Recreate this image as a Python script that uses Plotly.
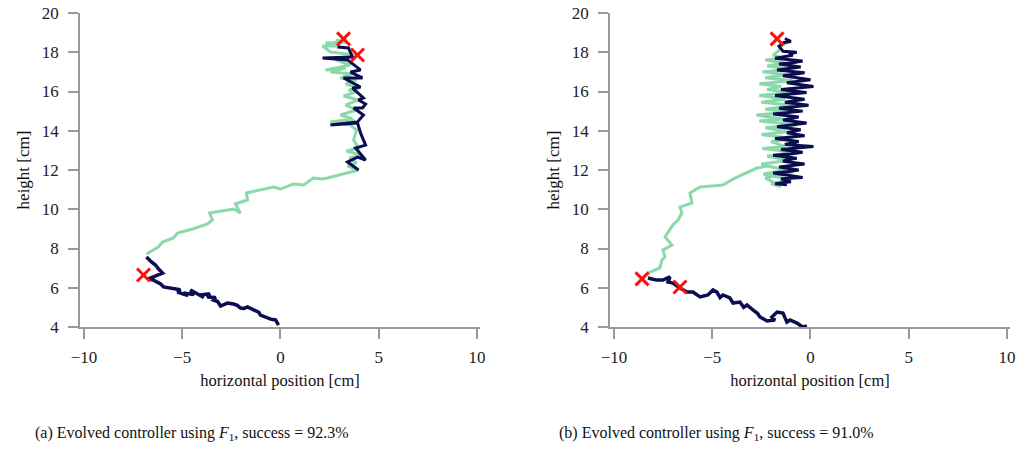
import plotly.graph_objects as go

# ---------------- Panel (a) ----------------
a_dark_low_x = [-0.1, -0.2, -0.25, -0.5, -0.66, -1.02, -1.1, -1.37, -1.68, -1.85, -2.04, -2.2, -2.39, -2.7, -2.9, -3.05, -3.2, -3.41, -3.3, -3.72, -3.6, -4.07, -3.9, -4.3, -4.58, -4.4, -4.94, -4.7, -5.24, -5.1, -5.6, -5.95, -6.1, -6.26, -6.46, -6.72, -6.3, -6.0, -6.2, -6.36, -6.55, -6.77, -6.82]
a_dark_low_y = [4.1, 4.25, 4.36, 4.4, 4.46, 4.61, 4.75, 4.87, 5.02, 4.95, 4.97, 5.1, 5.17, 5.22, 5.12, 5.07, 5.3, 5.38, 5.5, 5.53, 5.7, 5.63, 5.5, 5.75, 5.89, 5.65, 5.73, 5.6, 5.78, 5.9, 5.99, 6.04, 6.2, 6.29, 6.39, 6.45, 6.6, 6.75, 6.95, 7.16, 7.3, 7.52, 7.57]

a_green_x = [-6.82, -6.21, -6.0, -5.45, -5.24, -4.48, -3.72, -3.46, -3.61, -2.39, -2.04, -2.29, -1.68, -1.73, -0.36, 0.0, 0.66, 1.17, 1.68, 2.14, 2.39, 3.05, 3.72, 3.97,
             3.41, 3.87, 3.51, 4.12, 3.36, 3.97, 3.72, 3.87, 3.56, 2.54, 3.31, 3.82, 3.56, 3.05, 3.87, 3.31, 3.97, 3.21, 3.82, 3.46, 4.07, 3.31, 3.87, 3.05, 3.66, 2.54, 3.31, 2.29, 3.56, 2.80, 3.82, 2.54, 2.14, 3.05, 2.29, 3.31, 2.80]
a_green_y = [7.72, 8.08, 8.33, 8.54, 8.79, 8.99, 9.25, 9.45, 9.81, 10.01, 9.81, 10.27, 10.47, 10.83, 11.13, 11.03, 11.29, 11.24, 11.59, 11.54, 11.59, 11.75, 11.9, 12.0,
             12.20, 12.36, 12.61, 12.76, 12.97, 13.12, 13.53, 14.04, 14.29, 14.45, 14.55, 14.40, 14.65, 14.80, 15.06, 15.31, 15.57, 15.77, 15.97, 16.08, 16.18, 16.38, 16.59, 16.69, 16.89, 16.99, 17.20, 17.10, 17.35, 17.61, 17.86, 18.01, 18.32, 18.32, 18.47, 18.52, 18.62]

a_dark_top_x = [2.90, 3.46, 3.66, 2.14, 3.41, 4.07, 3.56, 4.17, 3.21, 4.07, 3.66, 4.22, 3.97, 4.33, 4.17, 3.72, 4.22, 3.92, 2.54, 3.92, 4.07, 4.33, 3.82, 4.33, 3.92, 3.41, 3.97]
a_dark_top_y = [18.27, 18.22, 17.76, 17.71, 17.61, 17.10, 16.99, 16.69, 16.69, 16.23, 16.18, 15.67, 15.57, 15.36, 15.16, 15.16, 14.80, 14.45, 14.29, 14.40, 13.89, 13.27, 13.12, 12.51, 12.66, 12.41, 12.0]

a_cross_x = [-6.97, 3.21, 3.92]
a_cross_y = [6.65, 18.68, 17.86]

# ---------------- Panel (b) ----------------
b_dark_low_x = [-0.18, -0.4, -0.69, -1.04, -1.2, -1.40, -1.70, -1.96, -1.81, -2.21, -2.57, -2.7, -2.93, -3.23, -3.4, -3.59, -3.94, -4.10, -4.45, -4.6, -4.76, -4.96, -5.22, -5.62, -5.98, -6.28, -6.64, -7.00, -7.25, -7.15, -7.51, -7.81, -8.07, -8.27]
b_dark_low_y = [4.05, 4.0, 4.20, 4.36, 4.25, 4.71, 4.76, 4.51, 4.36, 4.31, 4.51, 4.7, 4.87, 5.12, 5.0, 5.27, 5.22, 5.48, 5.63, 5.5, 5.78, 5.89, 5.63, 5.53, 5.78, 5.78, 5.99, 6.24, 6.29, 6.55, 6.39, 6.39, 6.45, 6.50]

b_green_x = [-8.27, -7.66, -7.56, -7.40, -7.51, -7.05, -7.40, -7.00, -6.74, -6.54, -6.64, -6.03, -6.13, -5.62, -4.45, -3.84, -2.72, -2.21,
             -1.2, -2.4, -1.0, -2.0, -1.5, -2.3, -0.9, -2.5, -1.1, -2.2, -0.8, -2.45, -1.3, -2.0, -0.9, -2.5, -1.2, -2.3, -0.7, -2.6, -1.4, -2.75, -1.0, -2.3, -0.9, -2.5, -1.3, -2.6, -1.0, -2.2, -1.5, -2.6, -0.9, -2.3, -1.2, -2.45, -1.0, -2.2, -1.3, -2.3, -1.4, -1.9, -1.6, -1.5, -1.2]
b_green_y = [6.75, 7.01, 7.41, 7.57, 7.92, 8.18, 8.59, 9.20, 9.45, 9.81, 10.11, 10.32, 10.83, 11.13, 11.24, 11.59, 12.10, 12.20,
             12.0, 11.8, 11.5, 11.3, 11.15, 11.6, 11.9, 12.3, 12.5, 12.7, 12.9, 13.1, 13.2, 13.45, 13.6, 13.8, 13.95, 14.15, 14.3, 14.5, 14.6, 14.8, 14.95, 15.1, 15.3, 15.45, 15.6, 15.8, 15.95, 16.1, 16.25, 16.4, 16.55, 16.7, 16.85, 17.0, 17.15, 17.3, 17.45, 17.6, 17.7, 17.85, 18.1, 18.3, 18.5]

b_dark_top_x = [-1.3, -1.0, -1.35, -1.6, -1.4, -0.7, -1.1, -0.9, -1.8, -1.2, -0.4, -0.9, -1.6, -0.5, -1.1, -1.7, -0.3, -0.8, -1.4, 0.0, -0.6, -1.2, 0.15, -0.5, -1.5, -0.9, -0.2, -1.8, -1.0, -0.3, -1.3, -0.7, -0.1, -1.6, -0.9, -0.4, -1.9, -1.1, -0.6, -1.4, -0.8, -0.2, -1.7, -1.0, -0.5, -1.2, -0.7, -0.3, -1.8, -1.1, -0.6, -1.3, 0.15, -0.7, -1.5, -0.4, -1.0, -1.9, -0.7, -1.2, -1.4, -0.3, -0.9, -1.6, -0.6, -1.1, -1.9, -0.8, -0.4, -1.5, -1.0, -1.8, -1.2]
b_dark_top_y = [18.7, 18.55, 18.5, 18.3, 18.05, 18.0, 17.92, 17.85, 17.7, 17.62, 17.55, 17.47, 17.4, 17.25, 17.17, 17.1, 16.95, 16.88, 16.8, 16.6, 16.52, 16.45, 16.25, 16.18, 16.1, 16.02, 15.95, 15.8, 15.7, 15.6, 15.45, 15.38, 15.3, 15.15, 15.07, 15.0, 14.85, 14.78, 14.7, 14.55, 14.47, 14.4, 14.2, 14.12, 14.05, 13.9, 13.82, 13.75, 13.6, 13.52, 13.45, 13.3, 13.2, 13.12, 13.05, 12.9, 12.82, 12.75, 12.6, 12.52, 12.45, 12.3, 12.22, 12.15, 12.0, 11.92, 11.85, 11.7, 11.62, 11.55, 11.4, 11.3, 11.25]

b_cross_x = [-8.57, -6.64, -1.70]
b_cross_y = [6.45, 6.04, 18.68]

x_ticks = [-10, -5, 0, 5, 10]
y_ticks = [4, 6, 8, 10, 12, 14, 16, 18, 20]
captions = ["(a) Evolved controller using <i>F</i><sub>1</sub>, success = 92.3%",
            "(b) Evolved controller using <i>F</i><sub>1</sub>, success = 91.0%"]

DARK = "#0b0d4f"
GREEN = "#8ad9aa"
RED = "#ff1010"
AXC = "#9a9a9a"
FONT = "Liberation Serif"

fig = go.Figure()

def line(x, y, color, xa, ya, w=3):
    fig.add_trace(go.Scatter(x=x, y=y, mode="lines", line=dict(color=color, width=w),
                             xaxis=xa, yaxis=ya, showlegend=False, hoverinfo="skip"))

def cross(x, y, xa, ya):
    fig.add_trace(go.Scatter(x=x, y=y, mode="markers",
                             marker=dict(symbol="x-thin", size=13, line=dict(color=RED, width=3)),
                             xaxis=xa, yaxis=ya, showlegend=False, hoverinfo="skip"))

line(a_dark_low_x, a_dark_low_y, DARK, "x", "y", 3.5)
line(a_green_x, a_green_y, GREEN, "x", "y")
line(a_dark_top_x, a_dark_top_y, DARK, "x", "y")
cross(a_cross_x, a_cross_y, "x", "y")

line(b_dark_low_x, b_dark_low_y, DARK, "x2", "y2", 3.5)
line(b_green_x, b_green_y, GREEN, "x2", "y2")
line(b_dark_top_x, b_dark_top_y, DARK, "x2", "y2", 3)
cross(b_cross_x, b_cross_y, "x2", "y2")

W, H = 1023, 458
ydom = [1 - 327 / H, 1 - 13 / H]

def xaxis(dom, anchor):
    return dict(domain=dom, anchor=anchor, range=[-10.2, 10.15], tickvals=x_ticks,
                automargin=False,
                showgrid=False, zeroline=False, showline=True, linecolor=AXC, linewidth=1.5,
                ticks="outside", ticklen=10, tickcolor=AXC, tickwidth=1.5,
                ticklabelstandoff=4,
                tickfont=dict(family=FONT, size=17, color="#222"),
                title=dict(text="horizontal position [cm]", font=dict(family=FONT, size=16.5, color="#111"), standoff=8))

def yaxis(dom, anchor):
    return dict(domain=dom, anchor=anchor, range=[4, 20], tickvals=y_ticks,
                automargin=False,
                showgrid=False, zeroline=False, showline=True, linecolor=AXC, linewidth=1.5,
                ticks="outside", ticklen=10, tickcolor=AXC, tickwidth=1.5,
                ticklabelstandoff=6,
                tickfont=dict(family=FONT, size=17, color="#222"),
                title=dict(text="height [cm]", font=dict(family=FONT, size=17, color="#111"), standoff=8))

fig.update_layout(
    width=W, height=H, margin=dict(l=0, r=0, t=0, b=0),
    plot_bgcolor="white", paper_bgcolor="white",
    xaxis=xaxis([80 / W, 480 / W], "y"),
    yaxis=yaxis(ydom, "x"),
    xaxis2=xaxis([610 / W, 1010 / W], "y2"),
    yaxis2=yaxis(ydom, "x2"),
    annotations=[
        dict(text=captions[0], x=192 / W, y=1 - 433 / H, xref="paper", yref="paper",
             showarrow=False, xanchor="center", yanchor="middle",
             font=dict(family=FONT, size=16, color="#111")),
        dict(text=captions[1], x=716 / W, y=1 - 433 / H, xref="paper", yref="paper",
             showarrow=False, xanchor="center", yanchor="middle",
             font=dict(family=FONT, size=16, color="#111")),
    ],
)

fig.write_html("out.html", config={"displayModeBar": False},
               post_script="document.body.style.margin='0';document.body.style.overflow='hidden';")
